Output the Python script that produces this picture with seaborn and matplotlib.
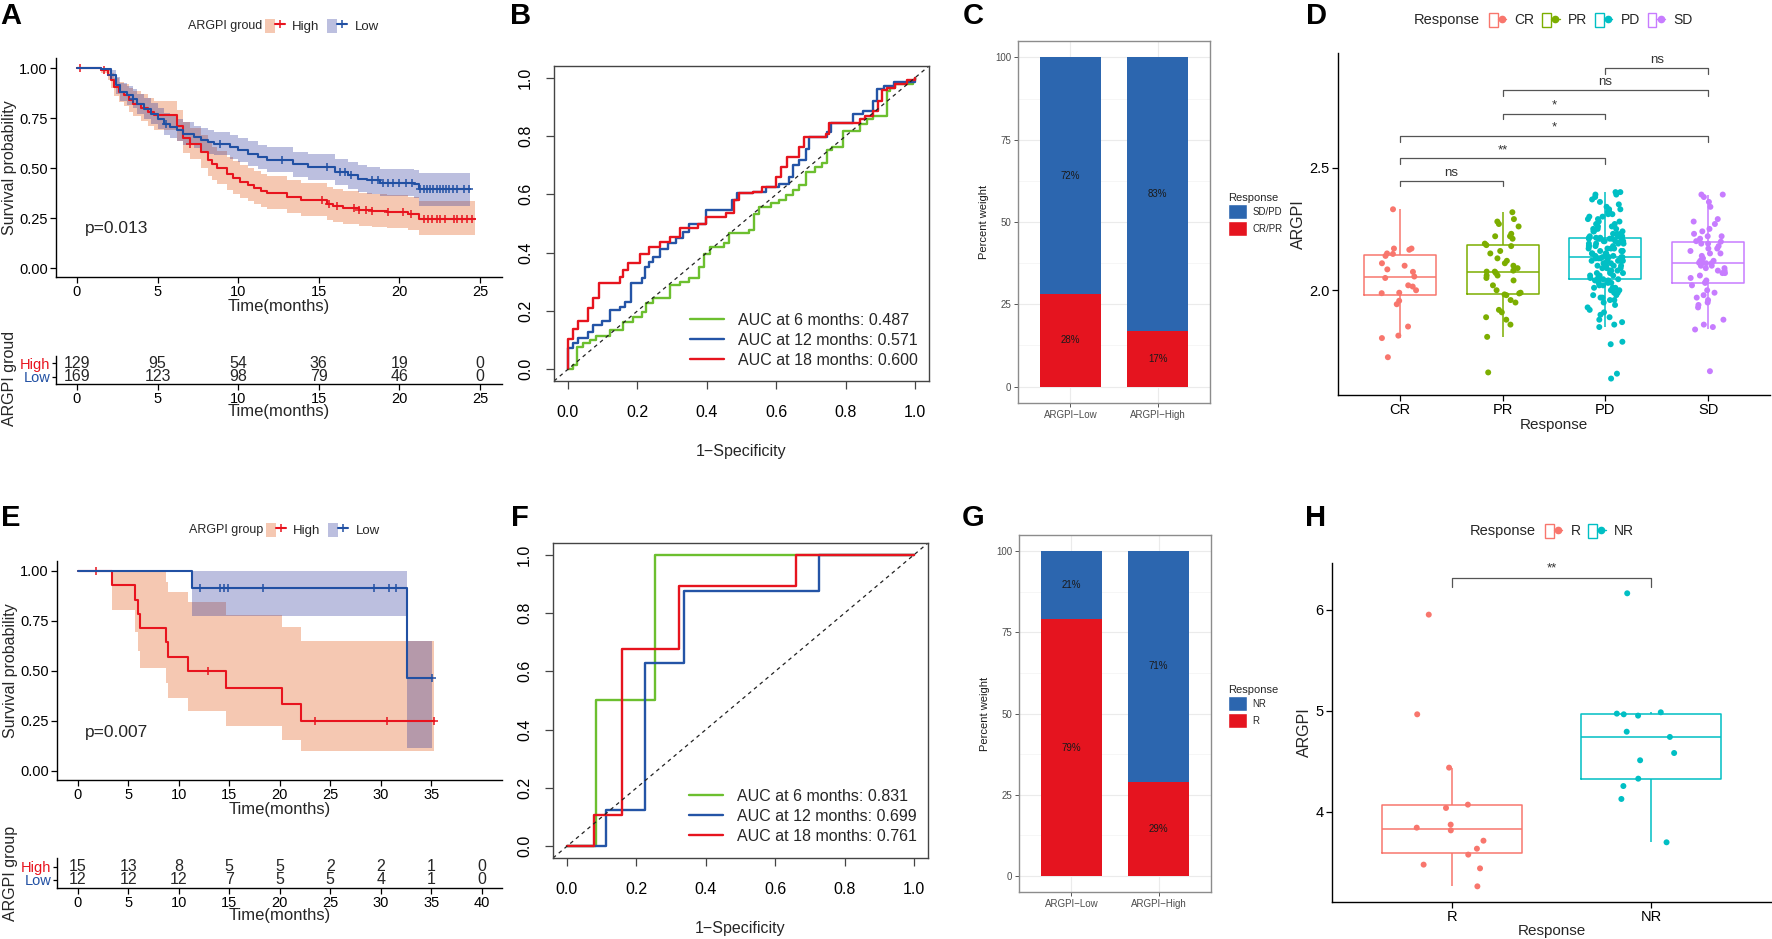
import numpy as np
import pandas as pd
import matplotlib
matplotlib.use("Agg")
import matplotlib.pyplot as plt
import seaborn as sns
from matplotlib.lines import Line2D
from matplotlib.patches import Patch
from matplotlib.legend_handler import HandlerTuple
from matplotlib.ticker import MultipleLocator

# ------------------------------------------------------------------
# data
# ------------------------------------------------------------------
# A: KM curves (training cohort)
a_high_t = [0, 1.5, 1.9, 2.1, 2.3, 2.6, 2.9, 3.2, 3.5, 3.95, 4.4, 4.8, 6.2, 6.6, 7.0, 7.7, 8.1, 8.4, 8.7, 9.3,
            9.7, 10.1, 10.6, 11.0, 11.4, 11.8, 13.0, 13.9, 15.5, 15.9, 16.5, 17.5, 18.3, 19.2, 20.5, 21.2, 24.7]
a_high_s = [1.0, 0.99, 0.965, 0.94, 0.905, 0.88, 0.865, 0.84, 0.82, 0.80, 0.78, 0.763, 0.71, 0.65, 0.62, 0.58, 0.54, 0.52, 0.50, 0.47,
            0.45, 0.43, 0.415, 0.40, 0.385, 0.377, 0.355, 0.342, 0.322, 0.308, 0.30, 0.292, 0.285, 0.28, 0.272, 0.247, 0.247]
a_high_up = [1.0, 1.0, 0.99, 0.975, 0.95, 0.93, 0.92, 0.90, 0.885, 0.87, 0.85, 0.835, 0.79, 0.73, 0.70, 0.665, 0.625, 0.605, 0.585, 0.555,
             0.535, 0.515, 0.50, 0.485, 0.47, 0.462, 0.44, 0.427, 0.407, 0.393, 0.385, 0.377, 0.37, 0.365, 0.357, 0.335, 0.335]
a_high_lo = [1.0, 0.975, 0.94, 0.90, 0.86, 0.83, 0.81, 0.78, 0.76, 0.735, 0.71, 0.69, 0.635, 0.575, 0.545, 0.50, 0.46, 0.44, 0.42, 0.39,
             0.37, 0.35, 0.335, 0.32, 0.305, 0.297, 0.275, 0.262, 0.242, 0.228, 0.22, 0.212, 0.205, 0.20, 0.192, 0.167, 0.167]
a_high_cens = [0.2, 1.7, 7.0, 15.2, 15.6, 16.1, 17.2, 17.5, 17.9, 18.3, 19.3, 20.2, 20.7, 21.5, 21.8, 22.0,
               22.3, 22.5, 22.8, 23.4, 23.6, 23.9, 24.2, 24.5]

a_low_t = [0, 1.5, 2.1, 2.4, 2.7, 3.1, 3.5, 3.7, 4.15, 4.6, 5.0, 5.4, 5.8, 6.2, 6.6, 7.25, 7.7, 8.1, 8.5, 9.5,
           10.0, 10.6, 11.2, 11.8, 13.4, 14.3, 16.0, 16.8, 17.4, 18.0, 18.8, 20.9, 21.2, 24.4]
a_low_s = [1.0, 0.995, 0.963, 0.913, 0.88, 0.863, 0.847, 0.82, 0.797, 0.772, 0.747, 0.722, 0.705, 0.688, 0.672, 0.655, 0.642, 0.63, 0.622, 0.605,
           0.588, 0.572, 0.555, 0.542, 0.518, 0.505, 0.48, 0.463, 0.447, 0.438, 0.427, 0.422, 0.393, 0.393]
a_low_up = [1.0, 1.0, 0.99, 0.955, 0.925, 0.91, 0.895, 0.87, 0.85, 0.825, 0.80, 0.777, 0.76, 0.743, 0.728, 0.712, 0.70, 0.688, 0.68, 0.664,
            0.648, 0.633, 0.617, 0.605, 0.582, 0.57, 0.546, 0.53, 0.515, 0.506, 0.496, 0.492, 0.476, 0.476]
a_low_lo = [1.0, 0.985, 0.935, 0.87, 0.835, 0.815, 0.80, 0.77, 0.745, 0.72, 0.693, 0.667, 0.65, 0.633, 0.616, 0.598, 0.585, 0.572, 0.563, 0.545,
            0.528, 0.511, 0.494, 0.48, 0.455, 0.44, 0.415, 0.397, 0.38, 0.37, 0.358, 0.352, 0.31, 0.31]
a_low_cens = [2.1, 3.5, 5.5, 8.9, 12.7, 15.5, 16.3, 16.6, 17.0, 18.3, 18.7, 19.0, 19.3, 19.6, 20.0, 20.4, 20.8,
              21.3, 21.5, 21.7, 21.9, 22.1, 22.3, 22.5, 22.7, 22.9, 23.1, 23.3, 23.6, 24.0, 24.3]

a_risk_times = [0, 5, 10, 15, 20, 25]
a_risk_high = [129, 95, 54, 36, 19, 0]
a_risk_low = [169, 123, 98, 79, 46, 0]

# E: KM curves (validation cohort)
e_high_t = [0, 3.36, 5.67, 5.93, 6.16, 8.7, 8.9, 10.88, 14.63, 20.2, 22.1, 35.3]
e_high_s = [1.0, 0.929, 0.857, 0.786, 0.714, 0.643, 0.571, 0.5, 0.417, 0.333, 0.25, 0.25]
e_high_up = [1.0, 1.0, 1.0, 1.0, 1.0, 0.947, 0.897, 0.843, 0.78, 0.718, 0.651, 0.651]
e_high_lo = [1.0, 0.805, 0.693, 0.60, 0.516, 0.44, 0.366, 0.30, 0.224, 0.157, 0.098, 0.098]
e_high_cens = [1.78, 12.9, 23.5, 30.6, 35.3]

e_low_t = [0, 11.27, 32.6, 35.1]
e_low_s = [1.0, 0.917, 0.466, 0.466]
e_low_up = [1.0, 1.0, 0.65, 0.65]
e_low_lo = [1.0, 0.775, 0.117, 0.117]
e_low_cens = [12.1, 14.1, 14.5, 14.9, 18.3, 29.3, 30.8, 31.5, 35.1]

e_risk_times = [0, 5, 10, 15, 20, 25, 30, 35, 40]
e_risk_high = [15, 13, 8, 5, 5, 2, 2, 1, 0]
e_risk_low = [12, 12, 12, 7, 5, 5, 4, 1, 0]

# B: time-dependent ROC (training)
b_6m_fpr = [0, 0.015, 0.025, 0.044, 0.063, 0.082, 0.121, 0.159, 0.188, 0.212, 0.226, 0.245, 0.293, 0.322, 0.35, 0.379,
            0.393, 0.408, 0.451, 0.465, 0.522, 0.537, 0.551, 0.585, 0.608, 0.627, 0.647, 0.666, 0.685, 0.713, 0.733,
            0.747, 0.761, 0.793, 0.841, 0.861, 0.879, 0.919, 0.928, 0.942, 0.994, 1.0]
b_6m_tpr = [0, 0.015, 0.078, 0.089, 0.10, 0.114, 0.135, 0.163, 0.18, 0.197, 0.226, 0.243, 0.289, 0.30, 0.312, 0.352,
            0.397, 0.42, 0.432, 0.466, 0.477, 0.534, 0.557, 0.569, 0.58, 0.597, 0.614, 0.631, 0.677, 0.694, 0.706,
            0.751, 0.763, 0.818, 0.841, 0.858, 0.87, 0.955, 0.965, 0.978, 0.992, 1.0]
b_12m_fpr = [0, 0, 0.015, 0.03, 0.058, 0.073, 0.097, 0.121, 0.149, 0.164, 0.183, 0.212, 0.221, 0.235, 0.245, 0.264,
             0.288, 0.312, 0.331, 0.35, 0.398, 0.474, 0.488, 0.532, 0.57, 0.608, 0.637, 0.647, 0.666, 0.685, 0.695,
             0.747, 0.757, 0.821, 0.85, 0.879, 0.89, 0.91, 0.94, 1.0]
b_12m_tpr = [0, 0.072, 0.089, 0.106, 0.129, 0.152, 0.167, 0.203, 0.215, 0.232, 0.295, 0.312, 0.352, 0.369, 0.386, 0.414,
             0.432, 0.449, 0.471, 0.50, 0.546, 0.58, 0.603, 0.608, 0.626, 0.637, 0.66, 0.70, 0.717, 0.757, 0.797,
             0.814, 0.845, 0.875, 0.887, 0.921, 0.961, 0.973, 0.984, 1.0]
b_18m_fpr = [0, 0, 0.015, 0.03, 0.058, 0.073, 0.09, 0.149, 0.16, 0.173, 0.207, 0.235, 0.264, 0.293, 0.322, 0.374,
             0.398, 0.455, 0.479, 0.494, 0.532, 0.56, 0.599, 0.613, 0.632, 0.666, 0.68, 0.742, 0.752, 0.841, 0.856,
             0.879, 0.893, 0.905, 0.919, 0.942, 0.976, 1.0]
b_18m_tpr = [0, 0.105, 0.14, 0.167, 0.209, 0.243, 0.295, 0.318, 0.34, 0.363, 0.397, 0.42, 0.437, 0.454, 0.483, 0.50,
             0.523, 0.535, 0.58, 0.603, 0.608, 0.626, 0.66, 0.694, 0.728, 0.763, 0.797, 0.808, 0.843, 0.858, 0.87,
             0.887, 0.921, 0.958, 0.965, 0.978, 0.992, 1.0]
b_labels = ["AUC at 6 months: 0.487", "AUC at 12 months: 0.571", "AUC at 18 months: 0.600"]

# F: time-dependent ROC (validation)
f_6m_fpr = [0, 0.083, 0.254, 1.0]
f_6m_tpr = [0, 0.5, 1.0, 1.0]
f_12m_fpr = [0, 0.112, 0.225, 0.3375, 0.725, 1.0]
f_12m_tpr = [0, 0.126, 0.629, 0.875, 1.0, 1.0]
f_18m_fpr = [0, 0.078, 0.159, 0.324, 0.66, 1.0]
f_18m_tpr = [0, 0.109, 0.677, 0.893, 1.0, 1.0]
f_labels = ["AUC at 6 months: 0.831", "AUC at 12 months: 0.699", "AUC at 18 months: 0.761"]

# C / G: stacked percentages
bar_groups = ["ARGPI\u2212Low", "ARGPI\u2212High"]
c_crpr = [28, 17]
c_sdpd = [72, 83]
g_r = [79, 29]
g_nr = [21, 71]

# D: ARGPI by response (training)
d_cr = [1.727, 1.805, 1.815, 1.852, 1.943, 1.957, 1.988, 1.99, 2.00, 2.015, 2.02, 2.05,
        2.056, 2.075, 2.085, 2.10, 2.11, 2.14, 2.148, 2.15, 2.165, 2.17, 2.17, 2.33]
d_pr = [1.665, 1.81, 1.86, 1.88, 1.89, 1.91, 1.92, 1.95, 1.96, 1.98, 1.983,
        1.987, 1.99, 2.00, 2.02, 2.04, 2.05, 2.06, 2.06, 2.07, 2.076,
        2.076, 2.08, 2.09, 2.10, 2.11, 2.12, 2.13, 2.15, 2.16, 2.18,
        2.184, 2.19, 2.21, 2.22, 2.22, 2.23, 2.26, 2.27, 2.28, 2.29, 2.318]
d_pd = [1.64, 1.66, 1.78, 1.79, 1.85, 1.86, 1.87, 1.88, 1.89, 1.90,
        1.91, 1.92, 1.93, 1.94, 1.95, 1.96, 1.96, 1.97, 1.97, 1.98,
        1.98, 1.99, 1.99, 2.00, 2.00, 2.01, 2.01, 2.01, 2.02, 2.02,
        2.03, 2.03, 2.03, 2.04, 2.04, 2.04, 2.045, 2.045,
        2.045, 2.05, 2.05, 2.06, 2.06, 2.06, 2.07, 2.07, 2.07, 2.08,
        2.08, 2.08, 2.09, 2.09, 2.09, 2.10, 2.10, 2.10, 2.10, 2.11,
        2.11, 2.11, 2.11, 2.12, 2.12, 2.12, 2.12, 2.12, 2.13, 2.13,
        2.13, 2.13, 2.13, 2.13, 2.135, 2.135, 2.135,
        2.135, 2.14, 2.14, 2.14, 2.15, 2.15, 2.15, 2.15, 2.16, 2.16,
        2.16, 2.16, 2.17, 2.17, 2.17, 2.17, 2.18, 2.18, 2.18, 2.18,
        2.19, 2.19, 2.19, 2.19, 2.20, 2.20, 2.20, 2.20, 2.20, 2.21,
        2.21, 2.21, 2.21, 2.21, 2.214, 2.214, 2.214,
        2.214, 2.22, 2.22, 2.22, 2.23, 2.23, 2.23, 2.24, 2.24, 2.24,
        2.25, 2.25, 2.25, 2.26, 2.26, 2.27, 2.27, 2.28, 2.28, 2.29,
        2.29, 2.30, 2.30, 2.31, 2.31, 2.32, 2.32, 2.33, 2.33, 2.34,
        2.35, 2.36, 2.37, 2.38, 2.39, 2.39, 2.40, 2.40]
d_sd = [1.67, 1.84, 1.85, 1.86, 1.88, 1.93, 1.94, 1.95, 1.96, 1.97, 1.98, 1.99, 2.00, 2.02, 2.03,
        2.032, 2.04, 2.05, 2.06, 2.07, 2.07, 2.08, 2.08, 2.09, 2.09, 2.10, 2.10, 2.11, 2.11, 2.112,
        2.112, 2.12, 2.12, 2.13, 2.13, 2.14, 2.15, 2.15, 2.16, 2.17, 2.17, 2.18, 2.19, 2.19, 2.198,
        2.20, 2.21, 2.22, 2.22, 2.23, 2.24, 2.25, 2.27, 2.28, 2.29, 2.34, 2.36, 2.38, 2.39, 2.39]
d_order = ["CR", "PR", "PD", "SD"]
d_brackets = [("CR", "PR", 2.447, "ns"), ("CR", "PD", 2.537, "**"), ("CR", "SD", 2.630, "*"),
              ("PR", "PD", 2.720, "*"), ("PR", "SD", 2.817, "ns"), ("PD", "SD", 2.907, "ns")]

# H: ARGPI by response (validation)
h_r = [5.954, 4.967, 4.439, 4.073, 4.04, 3.875, 3.845, 3.818, 3.716, 3.637, 3.578, 3.479, 3.442, 3.264]
h_nr = [6.165, 4.987, 4.974, 4.967, 4.954, 4.795, 4.743, 4.584, 4.512, 4.33, 4.257, 4.129, 3.70]
h_order = ["R", "NR"]

# ------------------------------------------------------------------
# colours / helpers
# ------------------------------------------------------------------
RED_LINE, BLUE_LINE = "#E8141E", "#2150A3"
RED_FILL, BLUE_FILL = "#E14B00", "#232D98"
ROC_COLS = ["#6CBF2F", "#2454A6", "#E6141E"]
BAR_BLUE, BAR_RED = "#2C66AF", "#E5141F"
D_PAL = {"CR": "#F8766D", "PR": "#7CAE00", "PD": "#00BFC4", "SD": "#C77CFF"}
H_PAL = {"R": "#F8766D", "NR": "#00BFC4"}

W, H = 1772, 939
sns.set_theme(style="ticks")
plt.rcParams['font.family'] = ['Liberation Sans', 'DejaVu Sans']
plt.rcParams['axes.unicode_minus'] = True

fig = plt.figure(figsize=(W / 100, H / 100), dpi=100)


def px_axes(l, t, r, b):
    return fig.add_axes([l / W, 1 - b / H, (r - l) / W, (b - t) / H])


def fx(x):
    return x / W


def fy(y):
    return 1 - y / H


def panel_letter(x, y, s):
    fig.text(fx(x), fy(y), s, fontsize=21, fontweight='bold', ha='center', va='center', color='black')


def classic_axes(ax, lw=1.0):
    for side in ['top', 'right']:
        ax.spines[side].set_visible(False)
    for side in ['left', 'bottom']:
        ax.spines[side].set_color('black')
        ax.spines[side].set_linewidth(lw)
    ax.tick_params(colors='black', length=4, width=0.9, labelcolor='black')


def km_panel(ax, groups, xlim, xticks, ptxt, pxy):
    for g in groups:
        ax.fill_between(g['t'], g['lo'], g['up'], step='post', color=g['fill'], alpha=0.3, lw=0)
    for g in groups:
        sns.lineplot(x=g['t'], y=g['s'], ax=ax, color=g['line'], lw=1.5,
                     drawstyle='steps-post', estimator=None, sort=False)
        t = np.asarray(g['t'])
        s = np.asarray(g['s'])
        idx = np.searchsorted(t, g['cens'], side='right') - 1
        ax.plot(g['cens'], s[idx], ls='none', marker='+', color=g['line'], ms=6, mew=1.1)
    ax.set_xlim(*xlim)
    ax.set_ylim(-0.045, 1.05)
    ax.set_xticks(xticks)
    ax.set_yticks([0, 0.25, 0.5, 0.75, 1.0])
    ax.set_yticklabels(["0.00", "0.25", "0.50", "0.75", "1.00"])
    classic_axes(ax)
    ax.tick_params(labelsize=10.5, pad=2)
    ax.set_xlabel("Time(months)", fontsize=12)
    ax.set_ylabel("Survival probability", fontsize=11.5)
    ax.xaxis.set_label_coords(0.5, -0.1)
    ax.xaxis.label.set_va('top')
    ax.text(pxy[0], pxy[1], ptxt, fontsize=12.5, ha='left', va='center')


def risk_panel(ax, times, high, low, xlim, ylim, ylab):
    for t, h, l in zip(times, high, low):
        ax.text(t, 2, str(h), ha='center', va='center', fontsize=11.5)
        ax.text(t, 1, str(l), ha='center', va='center', fontsize=11.5)
    ax.set_xlim(*xlim)
    ax.set_ylim(*ylim)
    ax.set_xticks(times)
    ax.set_yticks([1, 2])
    ax.set_yticklabels(["Low", "High"])
    classic_axes(ax)
    ax.tick_params(axis='x', labelsize=10.5, pad=2)
    ax.tick_params(axis='y', labelsize=10.5, pad=1, length=3)
    ax.get_yticklabels()[0].set_color(BLUE_LINE)
    ax.get_yticklabels()[1].set_color(RED_LINE)
    ax.set_xlabel("Time(months)", fontsize=12)
    ax.set_ylabel(ylab, fontsize=11.5)


def km_legend(title, title_x, key_x, y):
    fig.text(fx(title_x), fy(y), title, fontsize=9, ha='left', va='center')
    handles = [(Patch(facecolor=RED_FILL, alpha=0.3, edgecolor='none'),
                Line2D([], [], color=RED_LINE, lw=1.5, marker='+', ms=6, mew=1.1)),
               (Patch(facecolor=BLUE_FILL, alpha=0.3, edgecolor='none'),
                Line2D([], [], color=BLUE_LINE, lw=1.5, marker='+', ms=6, mew=1.1))]
    fig.legend(handles, ["High", "Low"], loc='center left', bbox_to_anchor=(fx(key_x), fy(y)),
               ncol=2, frameon=False, fontsize=9.5, handlelength=1.5, handleheight=1.35,
               handletextpad=0.55, columnspacing=0.6, borderpad=0, borderaxespad=0,
               handler_map={tuple: HandlerTuple(ndivide=None)})


def roc_panel(ax, curves, labels, leg_x, leg_top):
    handles = []
    for (xv, yv), c in zip(curves, ROC_COLS):
        sns.lineplot(x=xv, y=yv, ax=ax, color=c, lw=1.7, drawstyle='steps-post',
                     estimator=None, sort=False)
        handles.append(Line2D([], [], color=c, lw=1.7))
    ax.axline((0, 0), (1, 1), color='#222222', ls=(0, (3, 3)), lw=0.9)
    ax.set_xlim(-0.04, 1.04)
    ax.set_ylim(-0.04, 1.04)
    ticks = [0, 0.2, 0.4, 0.6, 0.8, 1.0]
    ax.set_xticks(ticks)
    ax.set_yticks(ticks)
    ax.set_xticklabels([f"{t:.1f}" for t in ticks])
    ax.set_yticklabels([f"{t:.1f}" for t in ticks])
    for sp in ax.spines.values():
        sp.set_color('#444444')
        sp.set_linewidth(1.0)
    ax.tick_params(colors='#444444', labelcolor='black', length=6, width=0.9, labelsize=11.5)
    ax.tick_params(axis='x', pad=11)
    ax.tick_params(axis='y', pad=9)
    for lab in ax.get_yticklabels():
        lab.set_rotation(90)
        lab.set_va('center')
    ax.set_xlabel("1\u2212Specificity", fontsize=11.5)
    ax.xaxis.set_label_coords(0.5, -0.2)
    ax.xaxis.label.set_va('top')
    ax.set_ylabel("")
    ax.legend(handles, labels, loc='upper left', bbox_to_anchor=(fx(leg_x), fy(leg_top)),
              bbox_transform=fig.transFigure, frameon=False, fontsize=11.5, handlelength=2.1,
              handletextpad=0.9, labelspacing=0.3, borderpad=0, borderaxespad=0)


def bar_panel(ax, bottom_vals, top_vals, bottom_lab, top_lab, leg_y):
    totals = [b + t for b, t in zip(bottom_vals, top_vals)]
    sns.barplot(x=bar_groups, y=totals, color=BAR_BLUE, saturation=1, width=0.7, errorbar=None,
                linewidth=0, ax=ax)
    sns.barplot(x=bar_groups, y=bottom_vals, color=BAR_RED, saturation=1, width=0.7, errorbar=None,
                linewidth=0, ax=ax)
    for i, (b, t) in enumerate(zip(bottom_vals, top_vals)):
        ax.text(i, b / 2, f"{b}%", ha='center', va='center', fontsize=7, color='#1a1a1a')
        ax.text(i, b + t / 2, f"{t}%", ha='center', va='center', fontsize=7, color='#1a1a1a')
    ax.set_xlim(-0.6, 1.6)
    ax.set_ylim(-5, 105)
    ax.set_yticks([0, 25, 50, 75, 100])
    ax.yaxis.set_minor_locator(MultipleLocator(12.5))
    ax.set_axisbelow(True)
    ax.grid(which='major', color='#EBEBEB', lw=0.8)
    ax.grid(which='minor', axis='y', color='#F3F3F3', lw=0.5)
    for sp in ax.spines.values():
        sp.set_visible(True)
        sp.set_color('#8C8C8C')
        sp.set_linewidth(1.0)
    ax.tick_params(which='major', colors='#555555', labelcolor='#4D4D4D', labelsize=7, length=3, width=0.7, pad=2)
    ax.tick_params(which='minor', length=0)
    ax.set_xlabel("")
    ax.set_ylabel("Percent weight", fontsize=8, color='#1a1a1a')
    handles = [Patch(facecolor=BAR_BLUE), Patch(facecolor=BAR_RED)]
    ax.legend(handles, [top_lab, bottom_lab], title="Response", loc='upper left',
              bbox_to_anchor=(fx(1228), fy(leg_y)), bbox_transform=fig.transFigure,
              frameon=False, fontsize=7, title_fontsize=8, handlelength=2.0, handleheight=2.0,
              handletextpad=0.5, labelspacing=0.15, borderpad=0, borderaxespad=0, alignment='left')


def response_panel(ax, df, order, pal, ylim, yticks, brackets, tick_h):
    np.random.seed(11)
    sns.boxplot(data=df, x="Response", y="ARGPI", hue="Response", order=order, hue_order=order,
                palette=pal, fill=False, width=0.7, linewidth=1.1, showfliers=False,
                showcaps=False, legend=False, ax=ax)
    sns.stripplot(data=df, x="Response", y="ARGPI", hue="Response", order=order, hue_order=order,
                  palette=pal, jitter=0.18, size=4.3, linewidth=0, legend=False, ax=ax)
    for a, b, y, lab in brackets:
        xa, xb = order.index(a), order.index(b)
        ax.plot([xa, xa, xb, xb], [y - tick_h, y, y, y - tick_h], color='#555555', lw=0.9)
        ax.text((xa + xb) / 2, y + tick_h * 0.35, lab, ha='center', va='bottom', fontsize=9.5, color='#333333')
    ax.set_ylim(*ylim)
    ax.set_yticks(yticks)
    classic_axes(ax)
    ax.tick_params(labelsize=10.5, pad=2)
    ax.set_xlabel("Response", fontsize=11)
    ax.set_ylabel("ARGPI", fontsize=11.5)
    ax.xaxis.label.set_va('top')


def response_legend(title_x, key_x, y, order, pal):
    fig.text(fx(title_x), fy(y), "Response", fontsize=10.5, ha='left', va='center')
    handles = [(Patch(facecolor='white', edgecolor=pal[k], lw=1.0),
                Line2D([], [], color=pal[k], lw=1.0, marker='o', ms=4.5)) for k in order]
    fig.legend(handles, order, loc='center left', bbox_to_anchor=(fx(key_x), fy(y)),
               ncol=len(order), frameon=False, fontsize=10, handlelength=1.25, handleheight=1.2,
               handletextpad=0.6, columnspacing=0.55, borderpad=0, borderaxespad=0,
               handler_map={tuple: HandlerTuple(ndivide=None)})


# ------------------------------------------------------------------
# A: KM training
# ------------------------------------------------------------------
ax_a = px_axes(56, 58, 502, 277)
km_panel(ax_a,
         [dict(t=a_high_t, s=a_high_s, up=a_high_up, lo=a_high_lo, cens=a_high_cens, line=RED_LINE, fill=RED_FILL),
          dict(t=a_low_t, s=a_low_s, up=a_low_up, lo=a_low_lo, cens=a_low_cens, line=BLUE_LINE, fill=BLUE_FILL)],
         (-1.3, 26.36), [0, 5, 10, 15, 20, 25], "p=0.013", (0.5, 0.20))
ax_a.yaxis.set_label_coords(-0.088, 0.5)
km_legend("ARGPI groud", 188, 265, 26)

ax_ar = px_axes(56, 356, 502, 384)
risk_panel(ax_ar, a_risk_times, a_risk_high, a_risk_low, (-1.3, 26.36), (0.43, 2.57), "ARGPI groud")
ax_ar.yaxis.set_label_coords(-0.088, 0.2)
ax_ar.xaxis.set_label_coords(0.5, -0.72)
ax_ar.xaxis.label.set_va('top')

# ------------------------------------------------------------------
# E: KM validation
# ------------------------------------------------------------------
ax_e = px_axes(57, 561, 502, 780)
km_panel(ax_e,
         [dict(t=e_high_t, s=e_high_s, up=e_high_up, lo=e_high_lo, cens=e_high_cens, line=RED_LINE, fill=RED_FILL),
          dict(t=e_low_t, s=e_low_s, up=e_low_up, lo=e_low_lo, cens=e_low_cens, line=BLUE_LINE, fill=BLUE_FILL)],
         (-2.05, 42.0), [0, 5, 10, 15, 20, 25, 30, 35], "p=0.007", (0.7, 0.195))
ax_e.yaxis.set_label_coords(-0.088, 0.5)
km_legend("ARGPI group", 189, 266, 530)

ax_er = px_axes(57, 858, 502, 888)
risk_panel(ax_er, e_risk_times, e_risk_high, e_risk_low, (-2.05, 42.0), (0.38, 2.69), "ARGPI group")
ax_er.yaxis.set_label_coords(-0.088, 0.5)
ax_er.xaxis.set_label_coords(0.5, -0.66)
ax_er.xaxis.label.set_va('top')

# ------------------------------------------------------------------
# B / F: ROC
# ------------------------------------------------------------------
ax_b = px_axes(554, 66, 929, 381)
roc_panel(ax_b, [(b_6m_fpr, b_6m_tpr), (b_12m_fpr, b_12m_tpr), (b_18m_fpr, b_18m_tpr)],
          b_labels, 690, 313)

ax_f = px_axes(553, 543, 928, 858)
roc_panel(ax_f, [(f_6m_fpr, f_6m_tpr), (f_12m_fpr, f_12m_tpr), (f_18m_fpr, f_18m_tpr)],
          f_labels, 689, 789)

# ------------------------------------------------------------------
# C / G: stacked bars
# ------------------------------------------------------------------
ax_c = px_axes(1018, 41, 1210, 403)
bar_panel(ax_c, c_crpr, c_sdpd, "CR/PR", "SD/PD", 193)
ax_c.yaxis.set_label_coords(-0.15, 0.5)

ax_g = px_axes(1019, 535, 1211, 892)
bar_panel(ax_g, g_r, g_nr, "R", "NR", 685)
ax_g.yaxis.set_label_coords(-0.15, 0.5)

# ------------------------------------------------------------------
# D / H: ARGPI by response
# ------------------------------------------------------------------
df_d = pd.DataFrame({
    "Response": ["CR"] * len(d_cr) + ["PR"] * len(d_pr) + ["PD"] * len(d_pd) + ["SD"] * len(d_sd),
    "ARGPI": d_cr + d_pr + d_pd + d_sd,
})
ax_d = px_axes(1338, 53, 1770, 395)
response_panel(ax_d, df_d, d_order, D_PAL, (1.573, 2.967), [2.0, 2.5], d_brackets, 0.024)
ax_d.set_xlim(-0.6, 3.6)
ax_d.set_yticklabels(["2.0", "2.5"])
ax_d.yaxis.set_label_coords(-0.075, 0.5)
ax_d.xaxis.set_label_coords(0.5, -0.068)
response_legend(1414, 1489, 20, d_order, D_PAL)

df_h = pd.DataFrame({
    "Response": ["R"] * len(h_r) + ["NR"] * len(h_nr),
    "ARGPI": h_r + h_nr,
})
ax_h = px_axes(1332, 563, 1771, 902)
response_panel(ax_h, df_h, h_order, H_PAL, (3.109, 6.465), [4, 5, 6],
               [("R", "NR", 6.317, "**")], 0.09)
ax_h.set_xlim(-0.6, 1.6)
ax_h.yaxis.set_label_coords(-0.045, 0.5)
ax_h.xaxis.set_label_coords(0.5, -0.064)
response_legend(1470, 1545, 531, h_order, H_PAL)

# ------------------------------------------------------------------
# panel letters
# ------------------------------------------------------------------
panel_letter(11, 16, "A")
panel_letter(521, 16, "B")
panel_letter(973, 16, "C")
panel_letter(1316, 16, "D")
panel_letter(11, 518, "E")
panel_letter(520, 518, "F")
panel_letter(973, 518, "G")
panel_letter(1316, 518, "H")

fig.savefig("out.png", dpi=100)
plt.close(fig)
